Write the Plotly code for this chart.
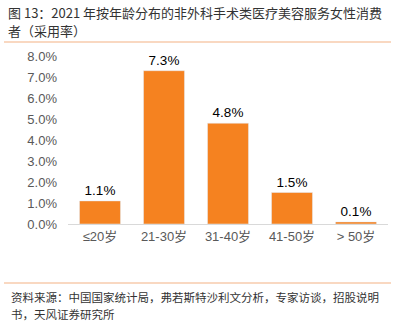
import plotly.graph_objects as go

categories = ["≤20岁", "21-30岁", "31-40岁", "41-50岁", "> 50岁"]
values = [1.1, 7.3, 4.8, 1.5, 0.1]
labels = ["1.1%", "7.3%", "4.8%", "1.5%", "0.1%"]
yticks = [0, 1, 2, 3, 4, 5, 6, 7, 8]
yticklabels = ["0.0%", "1.0%", "2.0%", "3.0%", "4.0%", "5.0%", "6.0%", "7.0%", "8.0%"]
title_lines = ["图 13：2021 年按年龄分布的非外科手术类医疗美容服务女性消费", "者（采用率）"]
source_lines = ["资料来源：中国国家统计局，弗若斯特沙利文分析，专家访谈，招股说明", "书，天风证券研究所"]

W, H = 395, 322
L, R, T, B = 68, 7, 56, 98
font = "Liberation Sans, Noto Sans CJK SC"

fig = go.Figure(go.Bar(
    x=categories, y=values, text=labels, textposition="outside",
    marker_color="#F58220", width=0.64,
    textfont=dict(color="#000000", size=13.5, family=font),
    cliponaxis=False,
))

fig.update_layout(
    width=W, height=H,
    margin=dict(l=L, r=R, t=T, b=B),
    paper_bgcolor="white", plot_bgcolor="white",
    showlegend=False,
    font=dict(family=font),
    xaxis=dict(showline=True, linecolor="#D9D9D9", linewidth=1, ticks="",
               tickfont=dict(size=13, color="#595959", family=font)),
    yaxis=dict(range=[0, 8], tickvals=yticks, ticktext=yticklabels,
               showgrid=False, zeroline=False, showline=False,
               tickfont=dict(size=13, color="#595959", family=font),
               ticklabelstandoff=10),
)

def py2p(py):
    top, bottom = T, H - B
    return (bottom - py) / (bottom - top)

def px2p(px):
    return (px - L) / (W - R - L)

for i, line in enumerate(title_lines):
    fig.add_annotation(x=px2p(7), y=py2p(12 + 18 * i), xref="paper", yref="paper",
                       xanchor="left", yanchor="middle", text=line, showarrow=False,
                       borderpad=0,
                       font=dict(size=13, color="#333333", family="Noto Sans CJK SC"))
for i, line in enumerate(source_lines):
    fig.add_annotation(x=px2p(10), y=py2p(297 + 17 * i), xref="paper", yref="paper",
                       xanchor="left", yanchor="middle", text=line, showarrow=False,
                       borderpad=0,
                       font=dict(size=11.5, color="#333333", family="Noto Sans CJK SC"))

for py in (42, 283):
    fig.add_shape(type="line", xref="paper", yref="paper",
                  x0=px2p(4), x1=px2p(391), y0=py2p(py), y1=py2p(py),
                  line=dict(color="#F4B183", width=1.2))

fig.write_html("out.html")
